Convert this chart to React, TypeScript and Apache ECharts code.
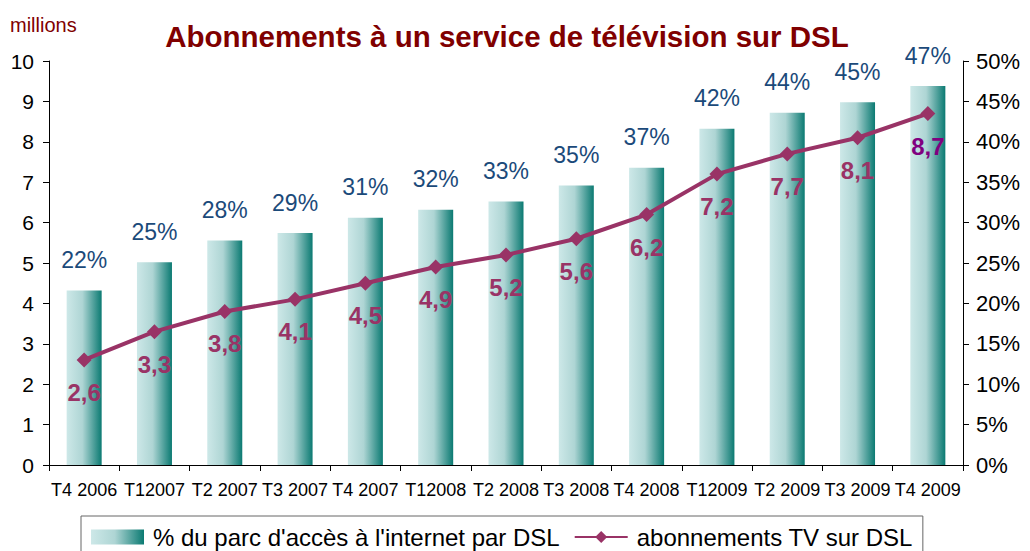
import React, { useEffect, useRef } from "react";
import * as echarts from "echarts";

const categories = [
  "T4 2006", "T12007", "T2 2007", "T3 2007", "T4 2007", "T12008", "T2 2008",
  "T3 2008", "T4 2008", "T12009", "T2 2009", "T3 2009", "T4 2009",
];
const shareDSL = [21.6, 25.1, 27.8, 28.7, 30.6, 31.6, 32.6, 34.6, 36.8, 41.6, 43.6, 44.9, 46.9];
const tvSubs = [2.6, 3.3, 3.8, 4.1, 4.5, 4.9, 5.2, 5.6, 6.2, 7.2, 7.7, 8.1, 8.7];
const leftTicks = { min: 0, max: 10, interval: 1 };
const rightTicks = { min: 0, max: 50, interval: 5 };

export default function App() {
  const ref = useRef<HTMLDivElement>(null);
  useEffect(() => {
    document.body.style.margin = "0";
    const chart = echarts.init(ref.current!, null, { renderer: "svg" });
    const font = "Liberation Sans, Arial, sans-serif";
    const barGrad = new echarts.graphic.LinearGradient(0, 0, 1, 0, [
      { offset: 0, color: "#cde8e8" },
      { offset: 0.45, color: "#aed5d4" },
      { offset: 1, color: "#0b7a72" },
    ]);
    const lastIdx = tvSubs.length - 1;
    chart.setOption({
      animation: false,
      textStyle: { fontFamily: font },
      title: {
        text: "Abonnements à un service de télévision sur DSL",
        left: 502,
        textAlign: "center",
        top: 16,
        textStyle: { color: "#800000", fontSize: 29.5, fontWeight: "bold", fontFamily: font },
      },
      graphic: [
        {
          type: "text",
          left: 10,
          top: 15,
          style: { text: "millions", fill: "#800000", fontSize: 20, fontFamily: font },
        },
      ],
      legend: {
        left: 81,
        top: 516,
        padding: [9, 10, 20, 10],
        itemWidth: 53,
        itemHeight: 15,
        itemGap: 14,
        borderColor: "#666",
        borderWidth: 1,
        textStyle: { fontSize: 24, color: "#000", fontFamily: font, padding: [0, 0, 0, 4] },
        data: [
          { name: "% du parc d'accès à l'internet par DSL", icon: "rect" },
          { name: "abonnements TV sur DSL" },
        ],
      },
      grid: { left: 49, right: 67, top: 61, bottom: 86 },
      xAxis: {
        type: "category",
        data: categories,
        axisLine: { lineStyle: { color: "#000" } },
        axisTick: { show: true, length: 6, lineStyle: { color: "#000" } },
        axisLabel: { color: "#000", fontSize: 18, margin: 16, interval: 0 },
      },
      yAxis: [
        {
          type: "value",
          ...leftTicks,
          position: "left",
          axisLine: { show: true, lineStyle: { color: "#000" } },
          axisTick: { show: true, length: 6, lineStyle: { color: "#000" } },
          axisLabel: { color: "#000", fontSize: 21, margin: 15 },
          splitLine: { show: false },
        },
        {
          type: "value",
          ...rightTicks,
          position: "right",
          axisLine: { show: true, lineStyle: { color: "#000" } },
          axisTick: { show: true, length: 6, lineStyle: { color: "#000" } },
          axisLabel: { color: "#000", fontSize: 22, margin: 13, formatter: "{value}%" },
          splitLine: { show: false },
        },
      ],
      series: [
        {
          name: "% du parc d'accès à l'internet par DSL",
          type: "bar",
          yAxisIndex: 1,
          data: shareDSL,
          barWidth: 35,
          itemStyle: { color: barGrad },
          label: {
            show: true,
            position: "top",
            distance: 19,
            color: "#1b4a7a",
            fontSize: 23,
            formatter: (p: any) => Math.round(p.value) + "%",
          },
          z: 2,
        },
        {
          name: "abonnements TV sur DSL",
          type: "line",
          yAxisIndex: 0,
          data: tvSubs,
          symbol: "diamond",
          symbolSize: 15,
          lineStyle: { color: "#993366", width: 4 },
          itemStyle: { color: "#993366" },
          label: {
            show: true,
            position: "bottom",
            distance: 13,
            color: "#993366",
            fontSize: 24,
            fontWeight: "bold",
            formatter: (p: any) => {
              const t = String(p.value).replace(".", ",");
              return p.dataIndex === lastIdx ? "{last|" + t + "}" : t;
            },
            rich: {
              last: { color: "#800080", fontSize: 24, fontWeight: "bold", fontFamily: font },
            },
          },
          z: 5,
        },
      ],
    });
    return () => chart.dispose();
  }, []);
  return <div ref={ref} style={{ width: 1030, height: 551 }} />;
}
